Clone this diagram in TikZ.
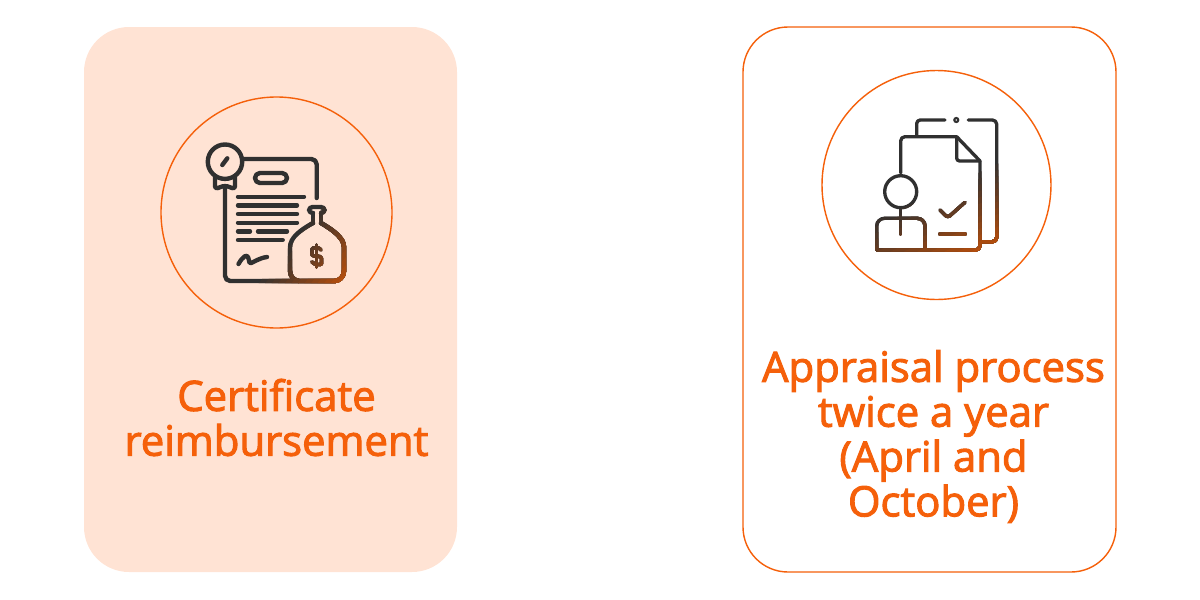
\documentclass[tikz,border=0pt]{standalone}
\usepackage{fontspec}
\setmainfont{Open Sans}[FakeBold=2.4]
\definecolor{brandorange}{RGB}{245, 96, 10}
\definecolor{cardpeach}{RGB}{255, 227, 212}
\definecolor{icondark}{RGB}{48, 48, 48}
\definecolor{iconrust}{RGB}{190, 80, 10}
\tikzset{
  cardbox/.style={rounded corners=1.35cm/3, minimum width=3.73cm, minimum height=5.45cm, inner sep=0pt},
  ringnode/.style={circle, draw=brandorange, line width=0.4pt, fill=none, inner sep=0pt},
  cardlabel/.style={text=brandorange, align=center, font=\fontsize{11.9}{12.76}\selectfont},
  iconline/.style={line width=1.25pt, line cap=round, line join=round, rounded corners=0.8pt},
  thinline/.style={iconline, line width=0.95pt}
}
% certificate glyph
\newcommand{\certpaths}{
  \draw[iconline] (2.25,1.617) circle (0.172);
  \draw[iconline] (2.223,1.65) -- (2.273,1.583);
  \draw[iconline] (2.15,1.76) -- (2.15,1.89) -- (2.25,1.855) -- (2.35,1.89) -- (2.35,1.76);
  \draw[iconline,rounded corners=1.5pt] (2.25,1.87) -- (2.25,2.81) -- (2.98,2.81);
  \draw[iconline,rounded corners=1.5pt] (2.433,1.59) -- (3.167,1.59) -- (3.167,1.98);
  \draw[iconline,rounded corners=1.4pt] (2.55,1.73) rectangle (2.87,1.83);
  \draw[iconline] (2.38,1.967) -- (3.04,1.967);
  \draw[iconline] (2.38,2.053) -- (2.97,2.053);
  \draw[iconline] (2.38,2.14) -- (2.97,2.14);
  \draw[iconline] (2.38,2.227) -- (2.97,2.227);
  \draw[iconline] (2.38,2.313) -- (2.5,2.313);
  \draw[iconline] (2.58,2.313) -- (2.87,2.313);
  \draw[iconline] (2.38,2.4) -- (2.827,2.4);
  \draw[iconline] (2.385,2.64) .. controls (2.43,2.56) and (2.47,2.54) .. (2.49,2.6) .. controls (2.5,2.65) and (2.58,2.58) .. (2.67,2.57);
  % money bag
  \draw[iconline,rounded corners=1pt] (3.13,2.13) -- (3.09,2.13) -- (3.09,2.07) -- (3.245,2.07) -- (3.245,2.13) -- (3.21,2.13);
  \draw[iconline] (3.13,2.13) -- (3.13,2.23);
  \draw[iconline] (3.21,2.13) -- (3.21,2.23);
  \draw[iconline] (3.13,2.23) .. controls (3.0,2.3) and (2.9,2.38) .. (2.9,2.5) -- (2.9,2.68) .. controls (2.9,2.77) and (2.95,2.81) .. (3.02,2.81) -- (3.32,2.81) .. controls (3.39,2.81) and (3.44,2.77) .. (3.44,2.68) -- (3.44,2.5) .. controls (3.44,2.38) and (3.33,2.3) .. (3.21,2.23);
  \draw[thinline] (3.21,2.5) .. controls (3.2,2.47) and (3.12,2.47) .. (3.12,2.52) .. controls (3.12,2.57) and (3.215,2.55) .. (3.215,2.61) .. controls (3.215,2.65) and (3.14,2.65) .. (3.12,2.62);
  \draw[thinline] (3.167,2.45) -- (3.167,2.67);
}
% appraisal glyph
\newcommand{\apprpaths}{
  \draw[thinline,rounded corners=1pt] (9.167,1.357) -- (9.167,1.2) -- (9.45,1.2);
  \draw[line width=0.6pt] (9.563,1.2) circle (0.02);
  \draw[thinline,rounded corners=1.2pt] (9.683,1.2) -- (9.967,1.2) -- (9.967,2.417) -- (9.81,2.417);
  \draw[thinline,rounded corners=1.2pt] (9.007,1.73) -- (9.007,1.367) -- (9.567,1.367);
  \draw[thinline] (9.567,1.367) -- (9.8,1.61);
  \draw[thinline,rounded corners=1.2pt] (9.8,1.61) -- (9.8,2.5) -- (8.77,2.5);
  \draw[thinline] (9.567,1.367) -- (9.567,1.61) -- (9.8,1.61);
  \draw[thinline] (9.007,1.917) circle (0.16);
  \draw[thinline] (9.007,2.08) -- (9.007,2.343);
  \draw[thinline,rounded corners=2.2pt] (8.767,2.5) -- (8.767,2.183) -- (9.25,2.183) -- (9.25,2.5);
  \draw[thinline] (9.4,2.1) -- (9.477,2.177) -- (9.65,2.023);
  \draw[thinline] (9.4,2.34) -- (9.65,2.34);
}
\begin{document}
\begin{tikzpicture}[x=1cm, y=-1cm]
  \useasboundingbox (0,0) rectangle (12,6);

  % Left card
  \node[cardbox, fill=cardpeach] (certcard) at (2.705,2.995) {};
  \node[ringnode, minimum size=2.31cm] (certring) at (2.765,2.125) {};
  \node[cardlabel] (certlabel) at (2.765,4.175) {Certificate\\reimbursement};

  % Right card
  \node[cardbox, draw=brandorange, line width=0.4pt, fill=white] (apprcard) at (9.295,2.995) {};
  \node[ringnode, minimum size=2.29cm] (apprring) at (9.365,1.85) {};
  \node[cardlabel] (apprlabel) at (9.335,4.365) {Appraisal process\\twice a year\\(April and\\October)};

  % Icons: dark base, then rust in steps towards the lower right
  \begin{scope}[icondark]
    \certpaths
    \apprpaths
  \end{scope}
  \foreach \k in {1,...,14} {
    \pgfmathsetmacro{\pct}{\k*100/14}
    \pgfmathsetmacro{\edgeA}{1.0+\k*0.05}
    \pgfmathsetmacro{\edgeB}{0.85+\k*0.057}
    \begin{scope}[color=iconrust!\pct!icondark]
      \begin{scope}
        \clip[shift={(2.25,1.6)}, rotate=50] (-4,\edgeA) rectangle (4,4);
        \certpaths
      \end{scope}
      \begin{scope}
        \clip[shift={(8.77,1.2)}, rotate=25] (-4,\edgeB) rectangle (4,4);
        \apprpaths
      \end{scope}
    \end{scope}
  }
\end{tikzpicture}
\end{document}
